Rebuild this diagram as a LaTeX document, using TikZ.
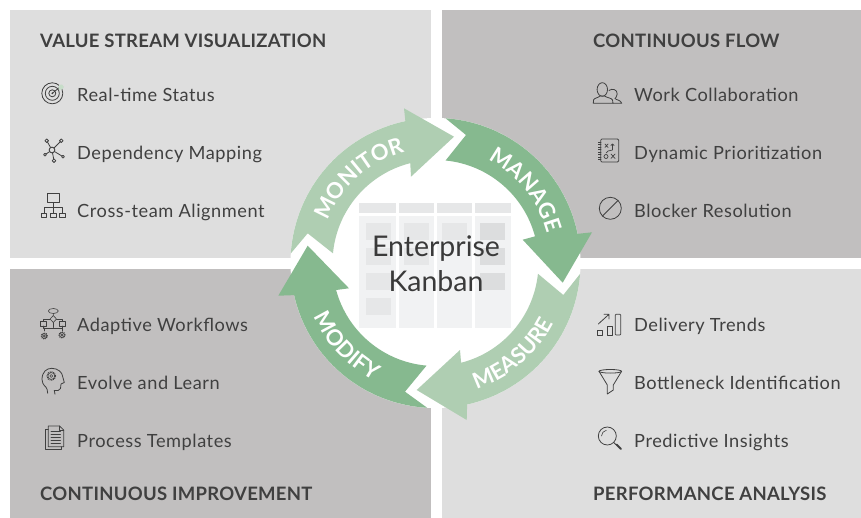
\documentclass[tikz,border=0pt]{standalone}
\usepackage{fontspec}
\setmainfont{Lato}
\usetikzlibrary{decorations.text}
\definecolor{panelL}{HTML}{DEDEDE}
\definecolor{panelD}{HTML}{C1BFBF}
\definecolor{arrowD}{HTML}{86B98F}
\definecolor{arrowL}{HTML}{AFCEB2}
\definecolor{ink}{HTML}{404040}
\definecolor{boardA}{HTML}{E6E7E8}
\definecolor{boardB}{HTML}{F1F2F3}
\definecolor{cardB}{HTML}{DCDDDE}
\newcommand{\ringarrow}[9]{% colour, out start, out end, barb, tip, inner barb, in end, in start, notch
  \fill[#1] ([shift={(435.5,-263)}]#2:145) arc[start angle=#2,end angle=#3,radius=145]
    -- #4 -- #5 -- #6 -- ([shift={(435.5,-263)}]#7:103) arc[start angle=#7,end angle=#8,radius=103] -- #9 -- cycle;}
\newcommand{\geargl}[3]{%
  \draw[ico,line width=1.1pt,dash pattern=on 0.9pt off 0.9pt,line cap=butt] (#1,#2) circle (#3);
  \draw[ico,line width=0.6pt] (#1,#2) circle (#3*0.8);
  \draw[ico,line width=0.6pt] (#1,#2) circle (#3*0.35);}
\newcommand{\arctext}[4]{% text, radius, start, end
  \path[decorate,decoration={text along path,text align=center,
    text={|\color{white}\fontsize{22}{25}\selectfont\bfseries|#1}}]
    ([shift={(435.5,-263)}]#3:#2) arc[start angle=#3,end angle=#4,radius=#2];}
\tikzset{
  x=1pt,y=1pt,
  lab/.style={anchor=base west,inner sep=0pt,text=ink,font=\fontsize{18.2}{20}\selectfont\addfontfeature{LetterSpace=3}},
  ttl/.style={anchor=base west,inner sep=0pt,text=ink,font=\fontsize{18.5}{20}\selectfont\bfseries\addfontfeature{LetterSpace=1.5}},
  ico/.style={draw=ink,line width=0.8pt,fill=none,line join=round,line cap=round},
  centertxt/.style={anchor=base,inner sep=0pt,text=ink!90!black,font=\fontsize{28.5}{32}\selectfont}
}
\begin{document}
\begin{tikzpicture}
\useasboundingbox (0,0) rectangle (861,-518);
% panels
\fill[panelL] (10,-10) rectangle (431,-258);
\fill[panelD] (442,-10) rectangle (861,-258);
\fill[panelD] (10,-269) rectangle (431,-518);
\fill[panelL] (442,-269) rectangle (861,-518);
% ring
\fill[white] (435.5,-263) circle (145);
\ringarrow{arrowL}{176.2}{102}{(404,-108.3)}{(454,-136.7)}{(411,-176.7)}{104.2}{174.6}{(307.7,-233.3)}
\ringarrow{arrowD}{86}{11.6}{(592,-232.3)}{(562.7,-282.7)}{(522.7,-239.7)}{15}{84.4}{(466,-135)}
\ringarrow{arrowL}{-4.3}{-77.4}{(466.7,-420)}{(416.7,-390)}{(460,-350)}{-75.6}{-6}{(563.3,-295)}
\ringarrow{arrowD}{266.7}{192.8}{(278.3,-295.7)}{(307.7,-245.7)}{(349,-288.3)}{195.2}{265}{(405,-391.7)}
% board
\foreach \a/\b in {359/396,399/434,437/472,475/511}{
  \fill[boardA] (\a,-203.3) rectangle (\b,-212.7);
  \fill[boardB] (\a,-216) rectangle (\b,-327.7);}
\foreach \a/\t/\b in {366/223.3/240,366/248.3/265,366/273/290,366/298/315,404/223.3/240,404/248.3/265,442/223.3/240}
  \fill[boardA] (\a,-\t) rectangle (\a+25,-\b);
\foreach \a/\t/\b in {480/223.3/240,480/248.3/265,480/273/290}
  \fill[cardB] (\a,-\t) rectangle (\a+25,-\b);
\node[centertxt] (ent) at (436,-256.7) {Enterprise};
\node[centertxt] (kan) at (436,-291.7) {Kanban};
% arc labels
\arctext{MONITOR}{115.5}{177}{87}
\arctext{MANAGE}{115.5}{84}{-6}
\arctext{MEASURE}{132.5}{-94.5}{-4.5}
\arctext{MODIFY}{132.5}{178}{268}
% titles
\node[ttl] (t1) at (40,-47.5) {VALUE STREAM VISUALIZATION};
\node[ttl] (t2) at (593,-47.5) {CONTINUOUS FLOW};
\node[ttl] (t3) at (40,-500.5) {CONTINUOUS IMPROVEMENT};
\node[ttl] (t4) at (593,-500.5) {PERFORMANCE ANALYSIS};
% labels
\node[lab] (l11) at (77,-101.5) {Real-time Status};
\node[lab] (l12) at (77,-159.5) {Dependency Mapping};
\node[lab] (l13) at (77,-217.5) {Cross-team Alignment};
\node[lab] (l21) at (634,-101.5) {Work Collaboration};
\node[lab] (l22) at (634,-159.5) {Dynamic Prioritization};
\node[lab] (l23) at (634,-217.5) {Blocker Resolution};
\node[lab] (l31) at (77,-331) {Adaptive Workflows};
\node[lab] (l32) at (77,-389) {Evolve and Learn};
\node[lab] (l33) at (77,-447) {Process Templates};
\node[lab] (l41) at (634,-331) {Delivery Trends};
\node[lab] (l42) at (634,-389) {Bottleneck Identification};
\node[lab] (l43) at (634,-447) {Predictive Insights};
% icon: target
\foreach \r in {10.5,7,3.5} \draw[ico] (52.3,-93.3) circle (\r);
\fill[ink] (52.3,-93.3) circle (1);
\draw[ico] (52.3,-93.3) -- (60,-87);
\fill[arrowL!70!white] (58.5,-88.5) -- (59,-85) -- (62,-84.5) -- (64,-87) -- (62,-89.5) -- (59.5,-89.8) -- cycle;
% icon: network
\draw[ico] (52,-150) circle (2.8);
\foreach \x/\y/\r in {46.7/140.7/1.8,61.3/140.7/1.8,45/154.7/1.4,54/160.7/1.8,63/156.7/1.4}{
  \draw[ico] (52,-150) -- (\x,-\y);
  \filldraw[ico,fill=panelL] (\x,-\y) circle (\r);}
\filldraw[ico,fill=panelL] (52,-150) circle (2.8);
% icon: org chart
\draw[ico] (47.7,-193.3) rectangle (59,-202.7);
\draw[ico] (53.3,-202.7) -- (53.3,-213.3) (44,-213.3) -- (44,-207.5) -- (62.3,-207.5) -- (62.3,-213.3);
\foreach \x in {41.3,50.7,59.7} \draw[ico] (\x,-213.3) rectangle (\x+5.3,-217.7);
% icon: people
\draw[ico] (602.3,-89.5) ellipse (5.2 and 6.8);
\draw[ico] (593.3,-103.3) -- (593.5,-100) .. controls (594,-98) and (599,-97.5) .. (600,-96)
  -- (604.5,-96) .. controls (606,-97.5) and (612,-98) .. (612.5,-100) -- (613,-103.3) -- cycle;
\draw[ico] (609,-90.5) .. controls (612,-88) and (617.5,-89.5) .. (617.2,-94) .. controls (617,-96.5) and (615.5,-98) .. (615,-98.5)
  .. controls (616,-100) and (621,-100) .. (621.7,-103.3) -- (613,-103.3);
% icon: notebook
\draw[ico,rounded corners=1.2pt] (600.7,-139) rectangle (618.7,-162);
\foreach \y in {142,144.5,147,149.5,152,154.5,157,159.5} \draw[ico,line width=0.6pt] (598.3,-\y) -- (601,-\y);
\draw[ico,line width=0.7pt] (605,-144) -- (608,-147.5) (608,-144) -- (605,-147.5)
  (612.5,-150) -- (612.5,-144) (610.8,-145.5) -- (612.5,-144) -- (614.2,-145.5)
  (612.5,-150) -- (608,-151) -- (606,-153)
  (611,-154) -- (615,-158.5) (615,-154) -- (611,-158.5);
\draw[ico,line width=0.7pt] (606,-156.5) circle (2);
% icon: blocker
\draw[ico] (610.3,-208.3) circle (11);
\draw[ico] (602.5,-216) -- (618,-200.5);
% icon: workflow
\draw[ico,line width=0.6pt] (53.3,-311) ellipse (5 and 2.5);
\draw[ico,line width=0.6pt] (53.3,-313.5) -- (53.3,-315.5) (53.3,-315.5) -- (56.5,-319) -- (53.3,-322.5) -- (50.1,-319) -- cycle;
\draw[ico,line width=0.6pt] (40,-321.7) rectangle (46.7,-326) (59.3,-321.7) rectangle (65.7,-326);
\draw[ico,line width=0.6pt] (46.7,-319) -- (50.1,-319) (56.5,-319) -- (62.5,-319) -- (62.5,-321.7) (43.3,-321.7) -- (43.3,-319) -- (46.7,-319)
  (53.3,-322.5) -- (53.3,-327.5) (43.3,-326) -- (43.3,-328) -- (62.5,-328) -- (62.5,-326) (44.3,-328) -- (44.3,-331) (62,-328) -- (62,-331);
\geargl{44.3}{-336}{3}
\geargl{62}{-335}{3}
% icon: head
\draw[ico] (47.7,-393.3) .. controls (47.5,-390) and (47,-388.5) .. (46,-387.3)
  .. controls (43,-384.5) and (42,-382) .. (42,-379.5)
  .. controls (42,-372) and (46.5,-368.3) .. (51.7,-368.3)
  .. controls (58,-368.3) and (62.5,-372.5) .. (62.7,-376.7)
  -- (64.3,-382.5) -- (61,-384) -- (60.5,-388.5) .. controls (60,-391) and (57,-390.5) .. (54.3,-390.5) -- (55,-394.3);
\geargl{51.3}{-376}{4.3}
% icon: documents
\draw[ico] (48.3,-445.5) -- (48.3,-426) -- (59.5,-426) -- (63.7,-430) -- (63.7,-446.7) -- (48.3,-446.7) -- cycle;
\draw[ico] (59.5,-426) -- (59.5,-430) -- (63.7,-430);
\draw[ico] (48.3,-429.3) -- (45,-429.3) -- (45,-449.3) -- (61.7,-449.3) -- (61.7,-446.7);
\foreach \y in {431,434,437,440,443} \draw[ico,line width=0.7pt] (51,-\y) -- (60.5,-\y);
% icon: trends
\draw[ico] (597.7,-330.7) rectangle (602.3,-335);
\draw[ico] (607,-326) rectangle (612.7,-335);
\draw[ico,rounded corners=0.8pt] (615.3,-314.3) rectangle (620.7,-335);
\draw[ico] (598.3,-324) -- (609,-314.3) (604,-314.3) -- (609,-314.3) -- (609,-319);
% icon: funnel
\draw[ico] (610.3,-371.3) ellipse (11.3 and 1.8);
\draw[ico] (599,-371.3) -- (607.3,-385) -- (607.3,-394) -- (613.3,-390) -- (613.3,-385) -- (621.6,-371.3);
% icon: magnifier
\draw[ico] (607.3,-436) circle (9);
\draw[ico,line width=0.6pt] (601.5,-436) arc[start angle=180,end angle=100,radius=5.8];
\draw[ico] (613.8,-442.5) -- (616,-444.7);
\draw[ico,line width=2pt] (616.5,-444.5) -- (621,-449);
\end{tikzpicture}
\end{document}
